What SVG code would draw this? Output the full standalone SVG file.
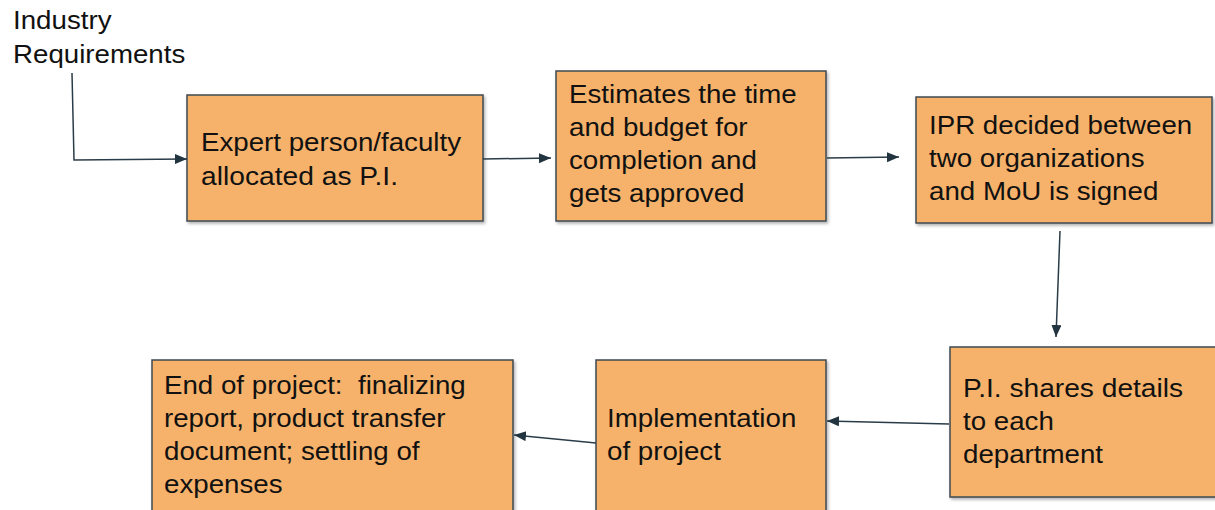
<svg xmlns="http://www.w3.org/2000/svg" width="1215" height="510" viewBox="0 0 1215 510">
<style>
.box{fill:#f6b26b;stroke:#3e4a52;stroke-width:1.5;filter:url(#sh)}
.t{font-family:"Liberation Sans",Arial,sans-serif;font-size:26px;fill:#111;white-space:pre}
.c{fill:none;stroke:#2a3c48;stroke-width:1.5;marker-end:url(#ah)}
</style>
<defs>
<filter id="sh" x="-5%" y="-5%" width="115%" height="115%">
<feDropShadow dx="1.5" dy="2" stdDeviation="1.5" flood-color="#000" flood-opacity="0.3"/>
</filter>
<marker id="ah" markerUnits="userSpaceOnUse" markerWidth="14" markerHeight="12" refX="12" refY="5" orient="auto">
<path d="M0,0 L12,5 L0,10 Z" fill="#22343f"/>
</marker>
</defs>
<g id="industry">
<text class="t" x="13" y="29" textLength="98.5" lengthAdjust="spacingAndGlyphs">Industry</text>
<text class="t" x="13" y="63" textLength="172.3" lengthAdjust="spacingAndGlyphs">Requirements</text>
</g>
<g id="n1">
<rect class="box" x="187" y="95" width="296" height="126"/>
<text class="t" x="201" y="151" textLength="260" lengthAdjust="spacingAndGlyphs">Expert person/faculty</text>
<text class="t" x="201" y="185" textLength="197" lengthAdjust="spacingAndGlyphs">allocated as P.I.</text>
</g>
<g id="n2">
<rect class="box" x="556" y="71" width="270" height="150"/>
<text class="t" x="569" y="103" textLength="227.7" lengthAdjust="spacingAndGlyphs">Estimates the time</text>
<text class="t" x="569" y="136" textLength="178.6" lengthAdjust="spacingAndGlyphs">and budget for</text>
<text class="t" x="569" y="169" textLength="187.8" lengthAdjust="spacingAndGlyphs">completion and</text>
<text class="t" x="569" y="202" textLength="175.5" lengthAdjust="spacingAndGlyphs">gets approved</text>
</g>
<g id="n3">
<rect class="box" x="916" y="97" width="296" height="126"/>
<text class="t" x="929" y="134" textLength="263.2" lengthAdjust="spacingAndGlyphs">IPR decided between</text>
<text class="t" x="929" y="167" textLength="215.5" lengthAdjust="spacingAndGlyphs">two organizations</text>
<text class="t" x="929" y="200" textLength="229.3" lengthAdjust="spacingAndGlyphs">and MoU is signed</text>
</g>
<g id="n4">
<rect class="box" x="950" y="347" width="270" height="150"/>
<text class="t" x="963" y="397" textLength="220.1" lengthAdjust="spacingAndGlyphs">P.I. shares details</text>
<text class="t" x="963" y="430" textLength="90.8" lengthAdjust="spacingAndGlyphs">to each</text>
<text class="t" x="963" y="463" textLength="140" lengthAdjust="spacingAndGlyphs">department</text>
</g>
<g id="n5">
<rect class="box" x="596" y="360" width="230" height="160"/>
<text class="t" x="607" y="427" textLength="189.3" lengthAdjust="spacingAndGlyphs">Implementation</text>
<text class="t" x="607" y="460" textLength="113.9" lengthAdjust="spacingAndGlyphs">of project</text>
</g>
<g id="n6">
<rect class="box" x="152" y="360" width="361" height="160"/>
<text class="t" x="164" y="394" textLength="301.7" lengthAdjust="spacingAndGlyphs">End of project:  finalizing</text>
<text class="t" x="164" y="427" textLength="281.6" lengthAdjust="spacingAndGlyphs">report, product transfer</text>
<text class="t" x="164" y="460" textLength="255.5" lengthAdjust="spacingAndGlyphs">document; settling of</text>
<text class="t" x="164" y="493" textLength="118.5" lengthAdjust="spacingAndGlyphs">expenses</text>
</g>
<g id="connectors">
<path class="c" d="M72,73 L74,160 L187,159"/>
<path class="c" d="M483,159 L551,158"/>
<path class="c" d="M827,158 L899,157"/>
<path class="c" d="M1060,231 L1056,337"/>
<path class="c" d="M949,424 L827,421"/>
<path class="c" d="M596,443 L514,435"/>
</g>
</svg>
